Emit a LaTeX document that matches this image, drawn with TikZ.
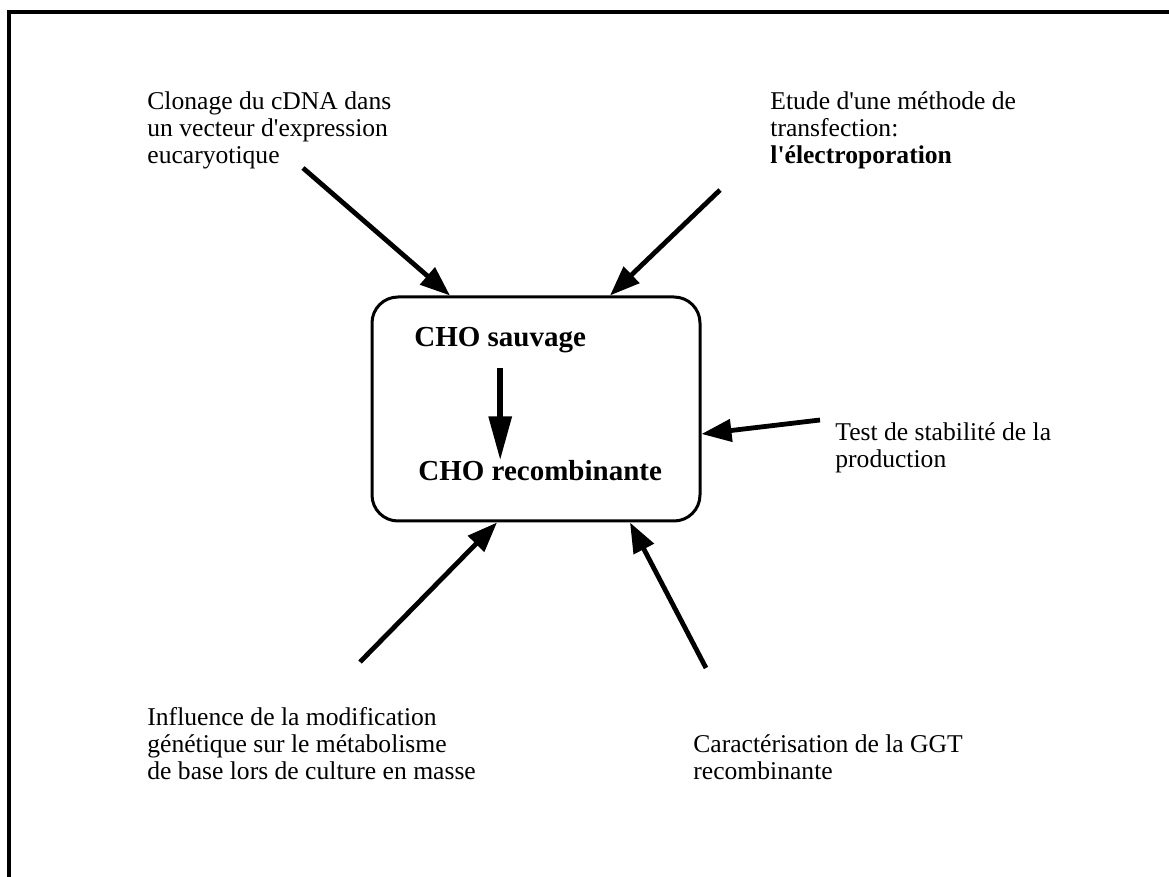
\documentclass[tikz,border=0pt]{standalone}
\usepackage{fontspec}
\setmainfont{Liberation Serif}
\usetikzlibrary{arrows.meta,calc}
\tikzset{
  note/.style={
    anchor=north west, align=left, inner sep=0pt,
    font=\fontsize{12.8}{13.6}\selectfont,
  },
  cell/.style={
    draw, line width=1.5pt, rounded corners=13pt,
    minimum width=164pt, minimum height=112pt, inner sep=0pt,
  },
  cho/.style={anchor=base west, inner sep=0pt, font=\fontsize{14.5}{16}\selectfont\bfseries},
  arr/.style={-{Triangle[length=15pt,width=11pt]}, line width=2.4pt},
  stepdown/.style={-{Triangle[length=22pt,width=11pt]}, line width=3pt},
}

\begin{document}
\begin{tikzpicture}[x=0.5pt,y=-0.5pt]
  \useasboundingbox (0,0) rectangle (1169,877);

  % cut frame
  \draw[line width=2pt] (9,877) -- (9,12) -- (1169,12);

  % central box
  \node[cell] (cell) at (536,409) {};
  \node[cho] (sauv) at (414,347) {CHO sauvage};
  \node[cho] (reco) at (418,481) {CHO recombinante};
  \draw[stepdown, shorten <=7pt] (sauv.south) -- (reco.north -| sauv.south);

  % notes
  \node[note] (clon) at (147,91) {Clonage du cDNA dans\\un vecteur d\textquotesingle expression\\eucaryotique};
  \node[note] (etud) at (770,91) {Etude d\textquotesingle une méthode de\\transfection:\\\textbf{l\textquotesingle électroporation}};
  \node[note] (test) at (835,422) {Test de stabilité de la\\production};
  \node[note] (infl) at (147,707) {Influence de la modification\\génétique sur le métabolisme\\de base lors de culture en masse};
  \node[note] (cara) at (693,734) {Caractérisation de la GGT\\recombinante};

  % arrow ends
  \coordinate (c1) at (303,168);
  \coordinate (c2) at (720,190);
  \coordinate (c3) at (820,420);
  \coordinate (c4) at (360,662);
  \coordinate (c5) at (706,668);

  \draw[arr] (c1) -- ($(cell.north)+(-86,0)$);
  \draw[arr] (c2) -- ($(cell.north)+(74,0)$);
  \draw[arr] (c3) -- ($(cell.east)+(0,25)$);
  \draw[arr] (c4) -- ($(cell.south)+(-39,0)$);
  \draw[arr] (c5) -- ($(cell.south)+(94,0)$);
\end{tikzpicture}
\end{document}
